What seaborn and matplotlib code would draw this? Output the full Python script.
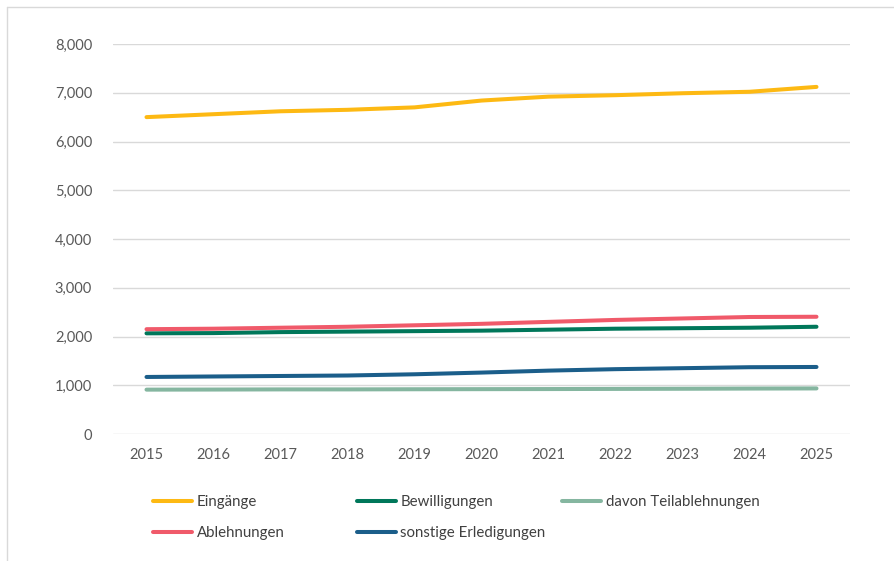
import matplotlib
matplotlib.use('Agg')
import matplotlib.pyplot as plt
import seaborn as sns
import pandas as pd
from matplotlib.ticker import FuncFormatter

years = [2015, 2016, 2017, 2018, 2019, 2020, 2021, 2022, 2023, 2024, 2025]
eingaenge = [6500, 6560, 6620, 6650, 6700, 6840, 6920, 6950, 6990, 7020, 7120]
bewilligungen = [2065, 2070, 2090, 2100, 2110, 2120, 2140, 2160, 2170, 2180, 2200]
teilablehnungen = [910, 912, 915, 915, 918, 920, 922, 925, 928, 932, 935]
ablehnungen = [2150, 2160, 2180, 2200, 2230, 2260, 2300, 2340, 2370, 2400, 2405]
sonstige = [1170, 1180, 1190, 1200, 1225, 1260, 1300, 1330, 1350, 1370, 1375]

series = {
    'Eingänge': eingaenge,
    'Bewilligungen': bewilligungen,
    'davon Teilablehnungen': teilablehnungen,
    'Ablehnungen': ablehnungen,
    'sonstige Erledigungen': sonstige,
}
colors = {
    'Eingänge': '#FDB913',
    'Bewilligungen': '#00775A',
    'davon Teilablehnungen': '#85B6A0',
    'Ablehnungen': '#F05A6A',
    'sonstige Erledigungen': '#1B5E8A',
}

rows = []
for name, vals in series.items():
    for y, v in zip(years, vals):
        rows.append({'Jahr': y, 'Wert': v, 'Serie': name})
df = pd.DataFrame(rows)

sns.set_style('white')
plt.rcParams['font.family'] = ['Lato', 'DejaVu Sans']

W, H = 894, 561
fig = plt.figure(figsize=(W / 100, H / 100), dpi=100)
ax = fig.add_axes([113 / W, 1 - 434 / H, (850 - 113) / W, (434 - 44) / H])

sns.lineplot(data=df, x='Jahr', y='Wert', hue='Serie', palette=colors,
             linewidth=2.9, ax=ax, legend=False, solid_capstyle='round')

ax.set_xlim(2014.5, 2025.5)
ax.set_ylim(0, 8000)
ax.set_yticks(range(0, 8001, 1000))
ax.set_xticks(years)
ax.yaxis.set_major_formatter(FuncFormatter(lambda v, p: f'{int(v):,}'))
ax.grid(axis='y', color='#D9D9D9', linewidth=1)
ax.set_axisbelow(True)
for s in ax.spines.values():
    s.set_visible(False)
ax.tick_params(axis='both', length=0, labelsize=10.5, labelcolor='#595959')
ax.tick_params(axis='y', pad=15)
ax.tick_params(axis='x', pad=10)
ax.set_xlabel('')
ax.set_ylabel('')

# legend entries placed like the fixed-width columns of the original
legend_pos = {
    'Eingänge': (153, 502),
    'Bewilligungen': (357, 502),
    'davon Teilablehnungen': (562, 502),
    'Ablehnungen': (153, 533),
    'sonstige Erledigungen': (357, 533),
}
for name, (px, py) in legend_pos.items():
    h = plt.Line2D([], [], color=colors[name], linewidth=2.9, solid_capstyle='round')
    fig.legend([h], [name], frameon=False, loc='center left',
               bbox_to_anchor=(px / W, 1 - py / H), fontsize=10.8,
               labelcolor='#404040', handlelength=2.6, handletextpad=0.3,
               borderpad=0, borderaxespad=0)

# chart area border (top and left edges visible)
fig.add_artist(plt.Line2D([7 / W, 1], [1 - 7 / H, 1 - 7 / H], transform=fig.transFigure,
                          color='#D9D9D9', linewidth=1))
fig.add_artist(plt.Line2D([7 / W, 7 / W], [0, 1 - 7 / H], transform=fig.transFigure,
                          color='#D9D9D9', linewidth=1))

plt.savefig('out.png', dpi=100)
